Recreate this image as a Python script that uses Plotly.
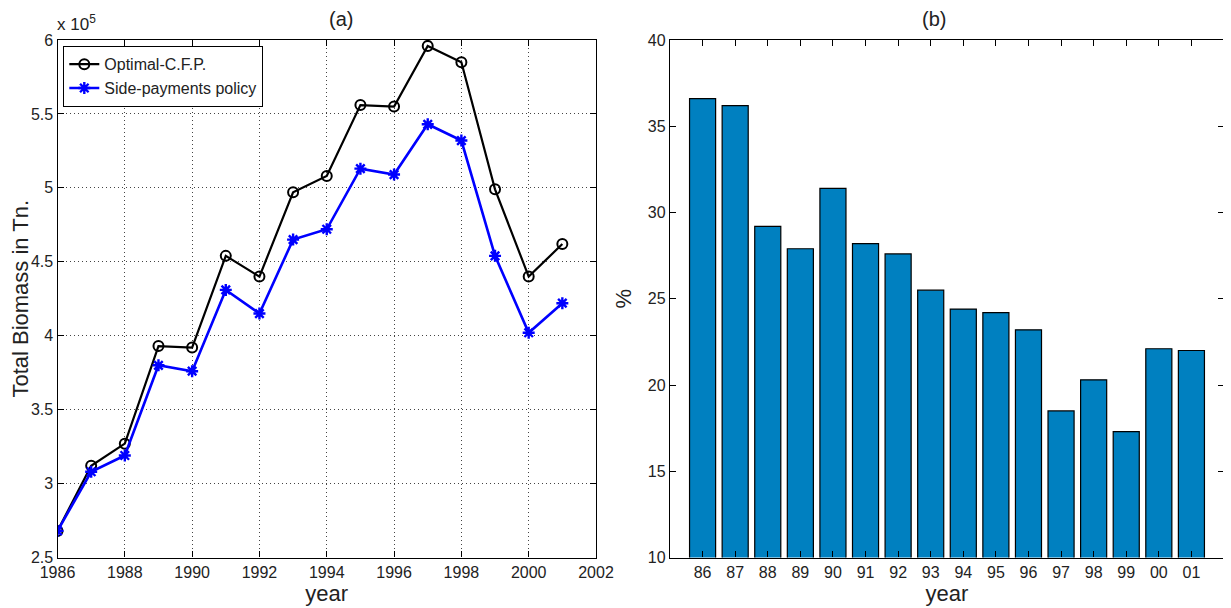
import plotly.graph_objects as go

# ---- data ----
years = [1986, 1987, 1988, 1989, 1990, 1991, 1992, 1993, 1994, 1995, 1996, 1997, 1998, 1999, 2000, 2001]
optimal_cfp = [2.68, 3.12, 3.27, 3.93, 3.92, 4.54, 4.40, 4.97, 5.08, 5.56, 5.55, 5.96, 5.85, 4.99, 4.40, 4.62]  # x 1e5 Tn
side_payments = [2.68, 3.08, 3.19, 3.80, 3.76, 4.31, 4.15, 4.65, 4.72, 5.13, 5.09, 5.43, 5.32, 4.54, 4.02, 4.22]  # x 1e5 Tn
bar_labels = ["86", "87", "88", "89", "90", "91", "92", "93", "94", "95", "96", "97", "98", "99", "00", "01"]
bar_values = [36.6, 36.2, 29.2, 27.9, 31.4, 28.2, 27.6, 25.5, 24.4, 24.2, 23.2, 18.5, 20.3, 17.3, 22.1, 22.0]
left_xticks = [1986, 1988, 1990, 1992, 1994, 1996, 1998, 2000, 2002]
left_yticks = [2.5, 3, 3.5, 4, 4.5, 5, 5.5, 6]
left_yticklabels = ["2.5", "3", "3.5", "4", "4.5", "5", "5.5", "6"]
right_yticks = [10, 15, 20, 25, 30, 35, 40]

FONT = "Liberation Sans, Arial, sans-serif"
OFF = 8  # page body margin
W, H = 1231 - OFF, 608 - OFF


def fx(px):
    return (px - OFF) / W


def fy(py):
    return 1 - (py - OFF) / H


fig = go.Figure()

fig.add_trace(go.Scatter(
    x=years, y=optimal_cfp, name="Optimal-C.F.P.", mode="lines+markers",
    line=dict(color="black", width=2.2),
    marker=dict(symbol="circle-open", size=10, color="black", line=dict(width=2)),
    xaxis="x", yaxis="y",
))
fig.add_trace(go.Scatter(
    x=years, y=side_payments, name="Side-payments policy", mode="lines+markers",
    line=dict(color="#0000ff", width=2.6),
    marker=dict(symbol="asterisk-open", size=10, color="#0000ff", line=dict(width=2.4, color="#0000ff")),
    xaxis="x", yaxis="y",
))
fig.add_trace(go.Bar(
    x=bar_labels, y=bar_values, width=0.8, showlegend=False,
    marker=dict(color="#0080c0", line=dict(color="black", width=1.2)),
    xaxis="x2", yaxis="y2",
))

axis_common = dict(
    showline=True, linecolor="black", linewidth=1.3, mirror="ticks",
    ticks="inside", ticklen=6, tickcolor="black", tickwidth=1,
    tickfont=dict(family=FONT, size=16, color="#222"),
    zeroline=False, automargin=False,
)

grid = dict(showgrid=True, gridcolor="#444", griddash="1px,3px", gridwidth=1)

fig.update_layout(
    width=W, height=H,
    margin=dict(l=0, r=0, t=0, b=0, autoexpand=False),
    paper_bgcolor="white", plot_bgcolor="white",
    font=dict(family=FONT, color="#222"),
    xaxis=dict(
        domain=[fx(57.5), fx(596)], range=[1986, 2002], anchor="y",
        tickvals=left_xticks, **grid,
        title=dict(text="year", font=dict(size=22, family=FONT), standoff=0),
        **axis_common,
    ),
    yaxis=dict(
        domain=[fy(557.5), fy(40)], range=[2.5, 6], anchor="x",
        tickvals=left_yticks, ticktext=left_yticklabels, **grid,
        title=dict(text="Total Biomass in Tn.", font=dict(size=22, family=FONT), standoff=8),
        **axis_common,
    ),
    xaxis2=dict(
        domain=[fx(670), fx(1224)], range=[-1, 16], anchor="y2", type="category",
        showgrid=False,
        title=dict(text="year", font=dict(size=22, family=FONT), standoff=0),
        **axis_common,
    ),
    yaxis2=dict(
        domain=[fy(557.5), fy(40)], range=[10, 40], anchor="x2",
        tickvals=right_yticks, showgrid=False,
        title=dict(text="%", font=dict(size=22, family=FONT), standoff=10),
        **axis_common,
    ),
    legend=dict(
        x=fx(63), y=fy(46), xanchor="left", yanchor="top",
        bgcolor="white", bordercolor="black", borderwidth=1.3,
        font=dict(family=FONT, size=16, color="#222"),
        tracegroupgap=0, itemwidth=30,
    ),
    bargap=0.2,
    annotations=[
        dict(text="(a)", x=fx(327), y=fy(19), xref="paper", yref="paper", yanchor="middle",
             showarrow=False, font=dict(size=20, family=FONT, color="#222")),
        dict(text="(b)", x=fx(948), y=fy(19), xref="paper", yref="paper", yanchor="middle",
             showarrow=False, font=dict(size=20, family=FONT, color="#222")),
        dict(text="x 10<sup>5</sup>", x=fx(55), y=fy(36), xref="paper", yref="paper",
             xanchor="left", yanchor="bottom", showarrow=False,
             font=dict(size=17, family=FONT, color="#222")),
    ],
)

fig.write_html("out.html")
